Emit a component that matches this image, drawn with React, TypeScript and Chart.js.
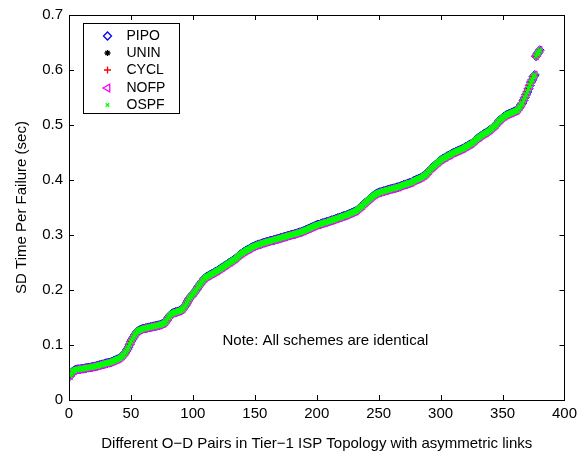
import React, { useEffect, useRef } from 'react';
import { Chart, registerables, Plugin } from 'chart.js';
import { drawPoint } from 'chart.js/helpers';

Chart.register(...registerables);

const FONT = "'Liberation Sans', Arial, Helvetica, sans-serif";

// SD time per failure (sec) for each O-D pair, sorted ascending
const sdTime = [
  0.044, 0.048, 0.052, 0.053, 0.055, 0.055, 0.056, 0.056, 0.056, 0.057,
  0.057, 0.057, 0.058, 0.058, 0.059, 0.059, 0.059, 0.060, 0.060, 0.061,
  0.061, 0.062, 0.062, 0.063, 0.064, 0.064, 0.065, 0.065, 0.066, 0.067,
  0.067, 0.068, 0.068, 0.069, 0.070, 0.071, 0.072, 0.073, 0.074, 0.075,
  0.076, 0.078, 0.080, 0.082, 0.085, 0.088, 0.092, 0.096, 0.101, 0.106,
  0.110, 0.114, 0.118, 0.121, 0.124, 0.126, 0.127, 0.128, 0.129, 0.130,
  0.130, 0.131, 0.131, 0.132, 0.132, 0.133, 0.133, 0.134, 0.134, 0.135,
  0.135, 0.136, 0.136, 0.137, 0.138, 0.139, 0.140, 0.142, 0.145, 0.149,
  0.152, 0.155, 0.157, 0.158, 0.159, 0.160, 0.160, 0.161, 0.162, 0.163,
  0.164, 0.166, 0.169, 0.172, 0.176, 0.180, 0.184, 0.187, 0.190, 0.193,
  0.195, 0.198, 0.201, 0.205, 0.208, 0.211, 0.214, 0.217, 0.220, 0.222,
  0.224, 0.225, 0.226, 0.228, 0.229, 0.230, 0.231, 0.233, 0.234, 0.235,
  0.237, 0.238, 0.240, 0.241, 0.243, 0.244, 0.246, 0.247, 0.249, 0.250,
  0.252, 0.253, 0.255, 0.256, 0.258, 0.260, 0.262, 0.264, 0.266, 0.267,
  0.269, 0.270, 0.272, 0.273, 0.274, 0.275, 0.277, 0.278, 0.279, 0.280,
  0.281, 0.282, 0.283, 0.283, 0.284, 0.285, 0.286, 0.286, 0.287, 0.288,
  0.288, 0.289, 0.290, 0.290, 0.291, 0.291, 0.292, 0.293, 0.293, 0.294,
  0.295, 0.295, 0.296, 0.297, 0.297, 0.298, 0.299, 0.299, 0.300, 0.301,
  0.301, 0.302, 0.302, 0.303, 0.304, 0.305, 0.305, 0.306, 0.307, 0.308,
  0.309, 0.310, 0.311, 0.312, 0.313, 0.314, 0.315, 0.316, 0.317, 0.318,
  0.319, 0.319, 0.320, 0.321, 0.322, 0.322, 0.323, 0.324, 0.324, 0.325,
  0.326, 0.327, 0.327, 0.328, 0.329, 0.330, 0.331, 0.331, 0.332, 0.333,
  0.334, 0.335, 0.335, 0.336, 0.337, 0.338, 0.339, 0.340, 0.341, 0.342,
  0.343, 0.344, 0.346, 0.348, 0.350, 0.352, 0.353, 0.356, 0.358, 0.360,
  0.362, 0.364, 0.366, 0.368, 0.370, 0.372, 0.373, 0.375, 0.376, 0.377,
  0.378, 0.378, 0.379, 0.380, 0.380, 0.381, 0.382, 0.382, 0.383, 0.384,
  0.384, 0.385, 0.385, 0.386, 0.387, 0.387, 0.388, 0.389, 0.390, 0.391,
  0.392, 0.392, 0.393, 0.394, 0.395, 0.395, 0.396, 0.398, 0.399, 0.400,
  0.401, 0.402, 0.403, 0.404, 0.405, 0.407, 0.408, 0.410, 0.412, 0.415,
  0.417, 0.420, 0.422, 0.424, 0.426, 0.428, 0.430, 0.432, 0.434, 0.436,
  0.437, 0.439, 0.440, 0.441, 0.443, 0.444, 0.445, 0.446, 0.448, 0.449,
  0.450, 0.451, 0.452, 0.453, 0.454, 0.455, 0.456, 0.457, 0.458, 0.460,
  0.461, 0.462, 0.464, 0.465, 0.466, 0.468, 0.470, 0.472, 0.474, 0.476,
  0.477, 0.479, 0.481, 0.482, 0.484, 0.485, 0.486, 0.488, 0.489, 0.491,
  0.493, 0.495, 0.497, 0.499, 0.501, 0.504, 0.507, 0.509, 0.511, 0.513,
  0.515, 0.516, 0.518, 0.519, 0.520, 0.521, 0.522, 0.523, 0.524, 0.525,
  0.526, 0.527, 0.530, 0.533, 0.537, 0.540, 0.545, 0.550, 0.555, 0.560,
  0.566, 0.572, 0.578, 0.582, 0.588, 0.591, 0.625, 0.629, 0.632, 0.636,
];

// O-D pair index, 1..N
const odPairs = sdTime.map((_, i) => i + 1);

// all schemes are identical
const schemes = ['PIPO', 'UNIN', 'CYCL', 'NOFP', 'OSPF'];
const schemeColors = ['#0000ff', '#000000', '#ff0000', '#ff00ff', '#00ff00'];
const schemeMarkers = ['rectRot', 'star', 'cross', 'triangle', 'crossRot'];
const schemeRotation = [0, 0, 0, -90, 0];
const schemeRadius = [4.5, 3, 3.5, 4.5, 3.5];
const schemeLineWidth = [1, 1, 1, 1, 1.6];

const noteText = 'Note: All schemes are identical';
const noteAt = { x: 207, y: 0.107 };

// box + inward ticks on all four sides, like matlab
const framePlugin: Plugin = {
  id: 'frame',
  afterDraw(chart) {
    const { ctx, chartArea: a, scales } = chart;
    const tl = 5;
    ctx.save();
    ctx.strokeStyle = '#000';
    ctx.lineWidth = 1;
    ctx.beginPath();
    scales.x.ticks.forEach((t) => {
      const px = Math.round(scales.x.getPixelForValue(t.value)) + 0.5;
      ctx.moveTo(px, a.bottom);
      ctx.lineTo(px, a.bottom - tl);
      ctx.moveTo(px, a.top);
      ctx.lineTo(px, a.top + tl);
    });
    scales.y.ticks.forEach((t) => {
      const py = Math.round(scales.y.getPixelForValue(t.value)) + 0.5;
      ctx.moveTo(a.left, py);
      ctx.lineTo(a.left + tl, py);
      ctx.moveTo(a.right, py);
      ctx.lineTo(a.right - tl, py);
    });
    ctx.stroke();
    ctx.strokeRect(Math.round(a.left) + 0.5, Math.round(a.top) + 0.5, Math.round(a.right - a.left), Math.round(a.bottom - a.top));

    // note
    ctx.fillStyle = '#000';
    ctx.font = `15px ${FONT}`;
    ctx.textAlign = 'center';
    ctx.textBaseline = 'middle';
    ctx.fillText(noteText, scales.x.getPixelForValue(noteAt.x), scales.y.getPixelForValue(noteAt.y));

    // legend box inside the axes
    const bx = Math.round(a.left) + 14.5;
    const by = Math.round(a.top) + 8.5;
    const bw = 96;
    const bh = 90;
    ctx.fillStyle = '#fff';
    ctx.fillRect(bx, by, bw, bh);
    ctx.strokeRect(bx, by, bw, bh);
    ctx.font = `14px ${FONT}`;
    chart.data.datasets.forEach((ds: any, i) => {
      const y = Math.round(by + 12 + i * 17.4);
      ctx.strokeStyle = ds.borderColor;
      ctx.fillStyle = 'rgba(0,0,0,0)';
      ctx.lineWidth = 1.3;
      const r = ds.pointStyle === 'crossRot' ? 2.5 : ds.pointStyle === 'rectRot' ? 4 : ds.pointRadius;
      drawPoint(ctx, { pointStyle: ds.pointStyle, radius: r, rotation: ds.pointRotation, borderWidth: 1.3 } as any, bx + 24, y);
      ctx.fillStyle = '#000';
      ctx.textAlign = 'left';
      ctx.textBaseline = 'middle';
      ctx.fillText(ds.label, bx + 43, y);
    });
    ctx.restore();
  },
};

const App: React.FC = () => {
  const chartRef = useRef<HTMLCanvasElement>(null);
  const chartInstance = useRef<Chart | null>(null);

  useEffect(() => {
    if (!chartRef.current) return;
    if (chartInstance.current) chartInstance.current.destroy();

    Chart.defaults.font.family = FONT;
    Chart.defaults.color = '#000';

    const datasets = schemes.map((name, i) => ({
      label: name,
      data: odPairs.map((x, j) => ({ x, y: sdTime[j] })),
      showLine: false,
      borderColor: schemeColors[i],
      backgroundColor: 'rgba(0,0,0,0)',
      borderWidth: schemeLineWidth[i],
      pointStyle: schemeMarkers[i] as any,
      pointRadius: schemeRadius[i],
      pointRotation: schemeRotation[i],
      order: schemes.length - i, // later schemes drawn on top
    }));

    chartInstance.current = new Chart(chartRef.current, {
      type: 'scatter',
      data: { datasets },
      options: {
        responsive: false,
        animation: false,
        events: [],
        layout: { padding: { top: 9, right: 17, left: 0, bottom: 0 } },
        plugins: {
          legend: { display: false },
          tooltip: { enabled: false },
        },
        scales: {
          x: {
            type: 'linear',
            min: 0,
            max: 400,
            ticks: { stepSize: 50, padding: 5, maxRotation: 0, font: { size: 15 }, color: '#000' },
            grid: { display: false, drawTicks: false },
            border: { display: false },
            title: {
              display: true,
              text: 'Different O\u2212D Pairs in Tier\u22121 ISP Topology with asymmetric links',
              font: { size: 15 },
              color: '#000',
              padding: { top: 0, bottom: 2 },
            },
            afterFit: (s) => {
              s.height = 55;
            },
          },
          y: {
            type: 'linear',
            min: 0,
            max: 0.7,
            ticks: { stepSize: 0.1, padding: 6, font: { size: 15 }, color: '#000' },
            grid: { display: false, drawTicks: false },
            border: { display: false },
            title: {
              display: true,
              text: 'SD Time Per Failure (sec)',
              font: { size: 15 },
              color: '#000',
              padding: { top: 13, bottom: 0 },
            },
            afterFit: (s) => {
              s.width = 69;
            },
          },
        },
      },
      plugins: [framePlugin],
    });

    return () => {
      if (chartInstance.current) {
        chartInstance.current.destroy();
        chartInstance.current = null;
      }
    };
  }, []);

  return (
    <div style={{ position: 'absolute', left: 0, top: 0, width: 582, height: 455, background: '#fff' }}>
      <canvas ref={chartRef} width={582} height={455} style={{ width: 582, height: 455 }} />
    </div>
  );
};

export default App;
